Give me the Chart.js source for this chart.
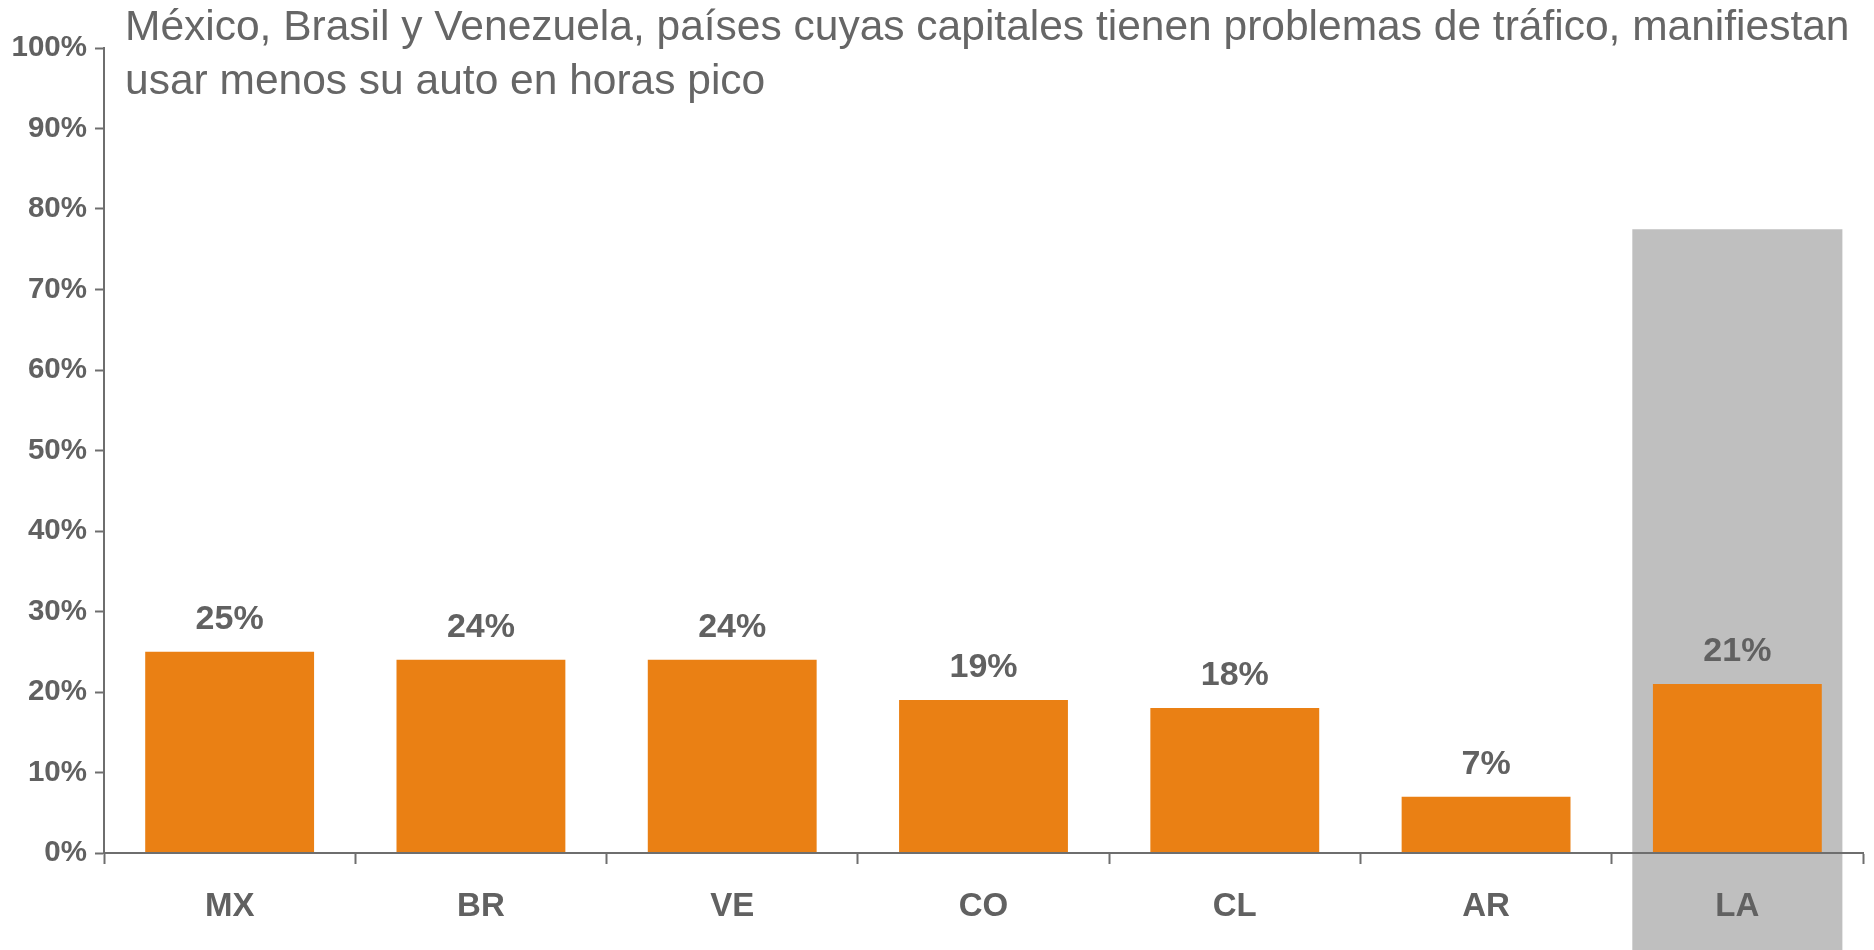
<!DOCTYPE html>
<html>
<head>
<meta charset="utf-8">
<script src="https://cdn.jsdelivr.net/npm/chart.js@4.4.1/dist/chart.umd.min.js"></script>
<style>
    html, body { margin: 0; padding: 0; background: #fff; }
    #wrap { position: relative; width: 1874px; height: 950px; }
    #chartTitle {
        position: absolute; left: 125px; top: -1px;
        font-family: 'Liberation Sans', Arial, sans-serif;
        font-size: 42.5px; line-height: 54px; color: #666666;
        white-space: nowrap; pointer-events: none;
    }
</style>
</head>
<body>
<div id="wrap">
    <canvas id="mainChart" width="1874" height="950"></canvas>
    <div id="chartTitle">México, Brasil y Venezuela, países cuyas capitales tienen problemas de tráfico, manifiestan<br>usar menos su auto en horas pico</div>
</div>
<script>
// chart data
const countries = ['MX', 'BR', 'VE', 'CO', 'CL', 'AR', 'LA'];
const carUseLess = [25, 24, 24, 19, 18, 7, 21];
// gray highlight behind the regional average (LA)
const highlightRange = [null, null, null, null, null, null, [-15, 77.5]];
const yTicks = [0, 10, 20, 30, 40, 50, 60, 70, 80, 90, 100];

const textGray = '#616161';
const axisGray = '#6e6e6e';
const fontFamily = "'Liberation Sans', Arial, sans-serif";

Chart.defaults.font.family = fontFamily;
Chart.defaults.color = textGray;

// value labels above the orange bars
const valueLabels = {
    id: 'valueLabels',
    afterDatasetsDraw(chart) {
        const ctx = chart.ctx;
        const meta = chart.getDatasetMeta(0);
        ctx.save();
        ctx.font = 'bold 34px ' + fontFamily;
        ctx.fillStyle = textGray;
        ctx.textAlign = 'center';
        ctx.textBaseline = 'alphabetic';
        meta.data.forEach((bar, i) => {
            ctx.fillText(carUseLess[i] + '%', bar.x, bar.y - 23);
        });
        ctx.restore();
    }
};

new Chart(document.getElementById('mainChart').getContext('2d'), {
    type: 'bar',
    data: {
        labels: countries,
        datasets: [{
            data: carUseLess,
            backgroundColor: '#EA8014',
            barPercentage: 0.672,
            categoryPercentage: 1,
            grouped: false,
            order: 1
        }, {
            data: highlightRange,
            backgroundColor: '#BFBFBF',
            barPercentage: 0.836,
            categoryPercentage: 1,
            grouped: false,
            clip: false,
            order: 2
        }]
    },
    options: {
        responsive: false,
        animation: false,
        layout: { padding: { top: 48, right: 11, left: 0, bottom: 0 } },
        plugins: {
            legend: { display: false },
            tooltip: { enabled: false }
        },
        scales: {
            x: {
                grid: {
                    z: 1,
                    drawOnChartArea: false,
                    drawTicks: true,
                    tickLength: 11,
                    tickWidth: 2,
                    tickColor: axisGray,
                    offset: true
                },
                border: { z: 1, color: axisGray, width: 2 },
                ticks: {
                    z: 1,
                    padding: 23,
                    color: textGray,
                    font: { size: 33, weight: 'bold' }
                },
                afterFit(scale) { scale.height = 97; }
            },
            y: {
                min: 0,
                max: 100,
                afterBuildTicks(scale) {
                    scale.ticks = yTicks.map(v => ({ value: v }));
                },
                grid: {
                    z: 1,
                    drawOnChartArea: false,
                    drawTicks: true,
                    tickLength: 9,
                    tickWidth: 2,
                    tickColor: axisGray
                },
                border: { z: 1, color: axisGray, width: 2 },
                ticks: {
                    z: 1,
                    padding: 8,
                    color: textGray,
                    font: { size: 29.5, weight: 'bold' },
                    callback: value => value + '%'
                },
                afterFit(scale) { scale.width = 104; }
            }
        }
    },
    plugins: [valueLabels]
});
</script>
</body>
</html>
